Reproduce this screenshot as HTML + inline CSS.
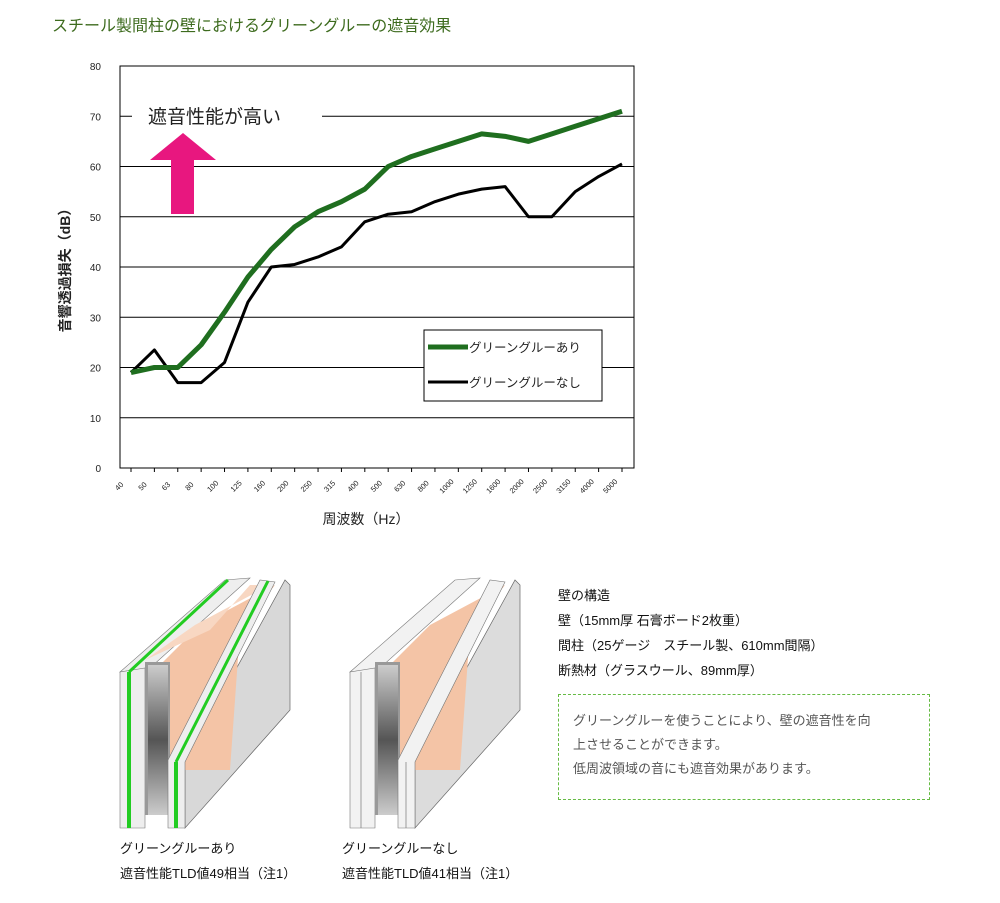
<!DOCTYPE html>
<html><head><meta charset="utf-8">
<style>
body{margin:0;background:#fff;width:1000px;height:903px;overflow:hidden;position:relative;font-family:"Liberation Sans","Noto Sans CJK JP",sans-serif;}
.t{position:absolute;white-space:nowrap;}
</style></head><body>
<div class="t" style="left:52px;top:12px;font-size:16px;color:#3d6b1e;">スチール製間柱の壁におけるグリーングルーの遮音効果</div>

<svg id="chart" width="1000" height="540" style="position:absolute;left:0;top:0" font-family="Liberation Sans, Noto Sans CJK JP, sans-serif"></svg>

<svg width="560" height="260" style="position:absolute;left:100px;top:570px">
 <g>
  <polygon points="85,258 85,192 185,10 190,15 190,140" fill="#d8d8d8" stroke="#666" stroke-width="0.7"/>
  <polygon points="20,102 125,10 150,8 50,98" fill="#eee" stroke="#777" stroke-width="0.6"/>
  <polygon points="20,102 20,258 45,258 45,98" fill="#eee" stroke="#777" stroke-width="0.6"/>
  <rect x="27" y="102" width="4" height="156" fill="#22cc22"/>
  <line x1="29" y1="102" x2="128" y2="10" stroke="#22cc22" stroke-width="3"/>
  <polygon points="60,95 100,55 175,15 140,60 130,200 60,200" fill="#f4c4a6"/>
  <polygon points="45,90 95,55 170,15 150,15 110,60" fill="#f8d7c2"/>
  <polygon points="45,92 70,92 70,245 45,245" fill="#999"/>
  <rect x="48" y="95" width="20" height="150" fill="url(#metal)"/>
  <polygon points="68,190 68,258 85,258 85,192 175,12 160,10" fill="#eee" stroke="#777" stroke-width="0.6"/>
  <rect x="74" y="192" width="4" height="66" fill="#22cc22"/>
  <line x1="76" y1="192" x2="168" y2="11" stroke="#22cc22" stroke-width="3"/>
 </g>
 <g transform="translate(230,0)">
  <polygon points="85,258 85,192 185,10 190,15 190,140" fill="#dcdcdc" stroke="#666" stroke-width="0.7"/>
  <polygon points="20,102 125,10 150,8 50,98" fill="#f2f2f2" stroke="#777" stroke-width="0.6"/>
  <polygon points="20,102 20,258 45,258 45,98" fill="#f2f2f2" stroke="#777" stroke-width="0.6"/>
  <line x1="31" y1="102" x2="31" y2="258" stroke="#777" stroke-width="0.7"/>
  <polygon points="60,95 100,55 175,15 140,60 130,200 60,200" fill="#f4c4a6"/>
  <polygon points="45,92 70,92 70,245 45,245" fill="#999"/>
  <rect x="48" y="95" width="20" height="150" fill="url(#metal)"/>
  <polygon points="68,190 68,258 85,258 85,192 175,12 160,10" fill="#f2f2f2" stroke="#777" stroke-width="0.6"/>
  <line x1="76" y1="192" x2="76" y2="258" stroke="#777" stroke-width="0.7"/>
 </g>
 <defs><linearGradient id="metal" x1="0" y1="0" x2="0" y2="1">
  <stop offset="0" stop-color="#ccc"/><stop offset="0.5" stop-color="#555"/><stop offset="1" stop-color="#ccc"/></linearGradient></defs>
</svg>

<div class="t" style="left:120px;top:836px;font-size:13px;line-height:25px;color:#111;">グリーングルーあり<br>遮音性能TLD値49相当（注1）</div>
<div class="t" style="left:342px;top:836px;font-size:13px;line-height:25px;color:#111;">グリーングルーなし<br>遮音性能TLD値41相当（注1）</div>

<div class="t" style="left:558px;top:583px;font-size:13px;line-height:25px;color:#111;">壁の構造<br>壁（15mm厚 石膏ボード2枚重）<br>間柱（25ゲージ　スチール製、610mm間隔）<br>断熱材（グラスウール、89mm厚）</div>
<div style="position:absolute;left:558px;top:694px;width:370px;height:104px;border:1px dashed #66bb44;"></div>
<div class="t" style="left:573px;top:709px;font-size:13px;line-height:24px;color:#555;">グリーングルーを使うことにより、壁の遮音性を向<br>上させることができます。<br>低周波領域の音にも遮音効果があります。</div>

<script>
const categories=["40","50","63","80","100","125","160","200","250","315","400","500","630","800","1000","1250","1600","2000","2500","3150","4000","5000"];
const withGlue=[19,20,20,24.5,31,38,43.5,48,51,53,55.5,60,62,63.5,65,66.5,66,65,66.5,68,69.5,71];
const withoutGlue=[19,23.5,17,17,21,33,40,40.5,42,44,49,50.5,51,53,54.5,55.5,56,50,50,55,58,60.5];
const yTicks=[0,10,20,30,40,50,60,70,80];
const NS="http://www.w3.org/2000/svg";
const svg=document.getElementById('chart');
const L=120,R=634,T=66,B=468;
const x0=131,x1=622;
const X=i=>x0+i*(x1-x0)/(categories.length-1);
const Y=v=>B-(v/80)*(B-T);
function mk(tag,at,parent){const e=document.createElementNS(NS,tag);for(const k in at)e.setAttribute(k,at[k]);(parent||svg).appendChild(e);return e;}
const frame=mk('rect',{x:L,y:T,width:R-L,height:B-T,fill:'#fff',stroke:'#000','stroke-width':1});


yTicks.forEach(v=>{
 if(v>0&&v<80){const g=mk('line',{x1:L,x2:R,y1:Y(v),y2:Y(v),stroke:'#000','stroke-width':1});
 
 }
 const t=mk('text',{x:101,y:Y(v)+4,'text-anchor':'end','font-size':10,fill:'#222'});t.textContent=v;
 
 
});
categories.forEach((c,i)=>{
 const tk=mk('line',{x1:X(i),x2:X(i),y1:B,y2:B+4,stroke:'#000'});
 
 
 const t=mk('text',{x:X(i)-10,y:B+20,'font-size':7.5,fill:'#222',transform:`rotate(-45 ${X(i)-10} ${B+20})`});
 t.setAttribute('text-anchor','middle');t.textContent=c;
 
 
});
// annotation
const wb=mk('rect',{x:132,y:108,width:190,height:18,fill:'#fff'});


const an=mk('text',{x:148,y:123,'font-size':19,fill:'#222'});an.textContent='遮音性能が高い';


const ar=mk('polygon',{points:'150,160 183,133 216,160 194,160 194,214 171,214 171,160',fill:'#e8177f'});


function line(vals,color,w,name){
 const p=mk('polyline',{points:vals.map((v,i)=>X(i)+','+Y(v)).join(' '),fill:'none',stroke:color,'stroke-width':w,'stroke-linejoin':'round'});
 
 
}
line(withoutGlue,'#000',3,'series-without-glue');
line(withGlue,'#1f6e1f',5,'series-with-glue');
// legend
const lg=mk('rect',{x:424,y:330,width:178,height:71,fill:'#fff',stroke:'#000'});


[['グリーングルーあり','#1f6e1f',5,347],['グリーングルーなし','#000',3,382]].forEach(([n,c,w,y])=>{
 const l=mk('line',{x1:428,x2:468,y1:y,y2:y,stroke:c,'stroke-width':w});
 
 
 const t=mk('text',{x:469,y:y+5,'font-size':12.5,fill:'#222'});t.textContent=n;
 
 
});
const xt=mk('text',{x:366,y:524,'text-anchor':'middle','font-size':14,fill:'#222'});xt.textContent='周波数（Hz）';


const yt=mk('text',{x:70,y:267,'text-anchor':'middle','font-size':14,'font-weight':'bold',fill:'#222',transform:'rotate(-90 70 267)'});yt.textContent='音響透過損失（dB）';


</script>
</body></html>
